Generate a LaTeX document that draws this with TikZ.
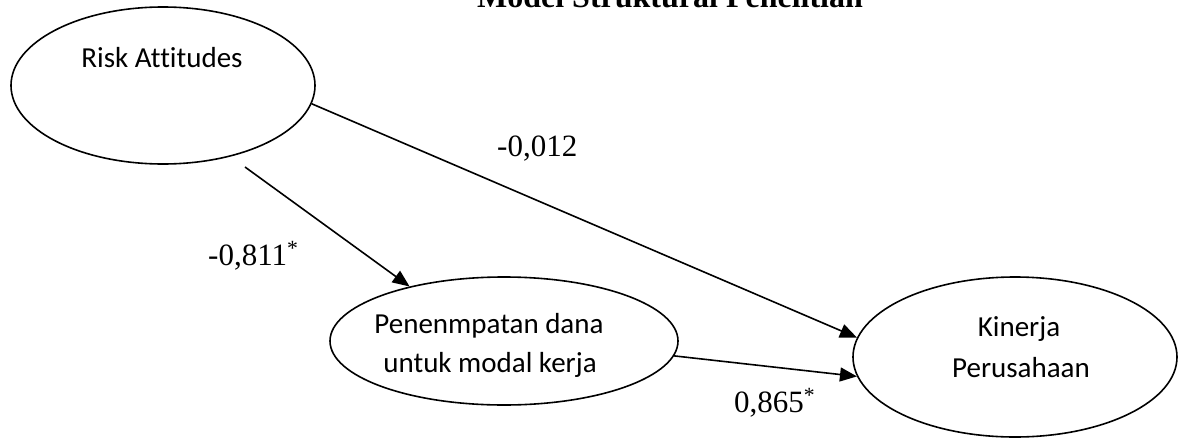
\documentclass[tikz,border=0pt]{standalone}
\usepackage{fontspec}
\setmainfont{Liberation Serif}
\newfontfamily\calib[Ligatures=NoCommon]{Carlito}
\usetikzlibrary{shapes.geometric,arrows.meta}

\begin{document}
\begin{tikzpicture}[x=1pt,y=-1pt,
  construct/.style={ellipse, draw, line width=1.6pt, inner sep=0pt},
  boxtext/.style={font=\calib\fontsize{29}{34}\selectfont, anchor=base, inner sep=0pt},
  coef/.style={font=\fontsize{31}{36}\selectfont, anchor=base west, inner sep=0pt},
  path/.style={line width=1.6pt, -{Triangle[length=17pt,width=14pt]}}]
\useasboundingbox (0,0) rectangle (1180,439);

% heading
\node[font=\bfseries\fontsize{32}{38}\selectfont, anchor=base, inner sep=0pt] (title) at (670,8) {Model Struktural Penelitian};

% constructs
\node[construct, minimum width=304pt, minimum height=157pt] (risk) at (163,85.5) {};
\node[boxtext] (risktxt) at (162,67) {Risk Attitudes};

\node[construct, minimum width=348pt, minimum height=128pt] (pen) at (504,341) {};
\node[boxtext] (pentxt1) at (489,333) {Penenmpatan dana};
\node[boxtext] (pentxt2) at (490,372) {untuk modal kerja};

\node[construct, minimum width=324pt, minimum height=160pt] (kin) at (1015,357) {};
\node[boxtext] (kintxt1) at (1019,336) {Kinerja};
\node[boxtext] (kintxt2) at (1021,377) {Perusahaan};

% structural paths
\coordinate (rstart) at (245,167);
\draw[path] (risk.-7) -- (kin.173);
\draw[path] (rstart) -- (pen.150);
\draw[path] (pen.-5) -- (kin.187);

% path coefficients
\node[coef] (c1) at (497,156) {-0,012};
\node[coef] (c2) at (208,265) {-0,811\textsuperscript{*}};
\node[coef] (c3) at (734,412) {0,865\textsuperscript{*}};
\end{tikzpicture}
\end{document}
